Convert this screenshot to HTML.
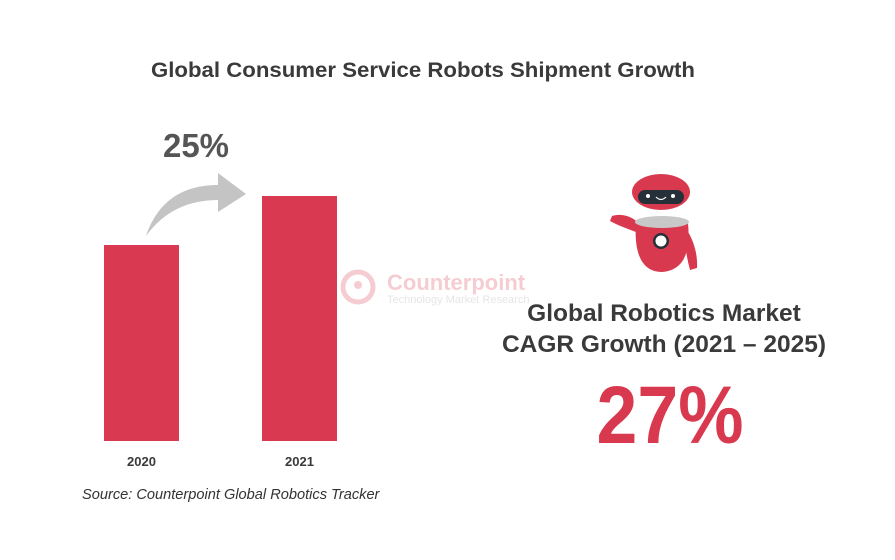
<!DOCTYPE html>
<html><head><meta charset="utf-8"><style>
body{margin:0;width:895px;height:560px;background:#fff;overflow:hidden;font-family:"Liberation Sans",sans-serif}
svg{display:block}
</style></head><body>
<svg width="895" height="560">
<text x="423" y="77" text-anchor="middle" font-size="21" font-weight="bold" fill="#3a3a3a" textLength="544" lengthAdjust="spacingAndGlyphs">Global Consumer Service Robots Shipment Growth</text>
<g id="bars"></g>
<g id="xlabels"></g>
<path d="M146,236 C160,195 190,185 218,185 L218,173 L246,194 L218,212 L218,200 C190,200 165,210 146,236 Z" fill="#c4c4c4"/>
<text x="196" y="157" text-anchor="middle" font-size="33" font-weight="bold" fill="#555">25%</text>
<g opacity="0.25">
<circle cx="358" cy="287" r="15" fill="none" stroke="#d9394f" stroke-width="5"/>
<circle cx="358" cy="285" r="4" fill="#d9394f"/>
<text x="387" y="290" font-size="22" font-weight="bold" fill="#d9394f">Counterpoint</text>
<text x="387" y="303" font-size="11" fill="#999">Technology Market Research</text>
</g>
<g>
<path d="M612,216 C625,212 638,220 640,226 L636,232 C625,228 615,224 610,221 Z" fill="#d9394f"/>
<path d="M684,226 C692,236 698,252 697,268 L690,270 C686,255 684,240 684,226 Z" fill="#d9394f"/>
<path d="M636,223 L688,223 C690,245 688,270 662,272 C640,272 634,250 636,223 Z" fill="#d9394f"/>
<ellipse cx="662" cy="222" rx="27" ry="6" fill="#c8c8c8"/>
<ellipse cx="661" cy="192" rx="29" ry="18" fill="#d9394f"/>
<rect x="638" y="190" width="46" height="14" rx="7" fill="#263038"/>
<circle cx="648" cy="196" r="2" fill="#fff"/><circle cx="673" cy="196" r="2" fill="#fff"/>
<path d="M656,197 Q661,202 666,197" stroke="#fff" fill="none" stroke-width="1.2"/>
<circle cx="661" cy="241" r="8" fill="#263038"/><circle cx="661" cy="241" r="5.5" fill="#fff"/>
</g>
<text x="664" y="321" text-anchor="middle" font-size="24.5" font-weight="bold" fill="#3a3a3a">Global Robotics Market</text>
<text x="664" y="352" text-anchor="middle" font-size="24.5" font-weight="bold" fill="#3a3a3a">CAGR Growth (2021 – 2025)</text>
<text x="670" y="443" text-anchor="middle" font-size="82" font-weight="bold" fill="#d9394f" textLength="147" lengthAdjust="spacingAndGlyphs">27%</text>
<text x="82" y="499" font-size="14.6" font-style="italic" fill="#333">Source: Counterpoint Global Robotics Tracker</text>
</svg>
<script>
const categories=["2020","2021"];
const values=[100,125];
const baseY=441, scale=1.96, barW=75, xs0=104, step=158;
function xPos(i){return xs0+i*step;}
function yPos(v){return baseY-v*scale;}
const NS="http://www.w3.org/2000/svg";
const bars=document.getElementById('bars'), xl=document.getElementById('xlabels');
categories.forEach((c,i)=>{
 const r=document.createElementNS(NS,'rect');
 r.setAttribute('x',xPos(i));r.setAttribute('y',yPos(values[i]));
 r.setAttribute('width',barW);r.setAttribute('height',baseY-yPos(values[i]));
 r.setAttribute('fill','#d93a51');
 
 
 bars.appendChild(r);
 const t=document.createElementNS(NS,'text');
 t.setAttribute('x',xPos(i)+barW/2);t.setAttribute('y',466);
 t.setAttribute('text-anchor','middle');t.setAttribute('font-size','13');
 t.setAttribute('font-weight','bold');t.setAttribute('fill','#3a3a3a');
 t.textContent=c;
 
 
 xl.appendChild(t);
});
</script>
</body></html>
